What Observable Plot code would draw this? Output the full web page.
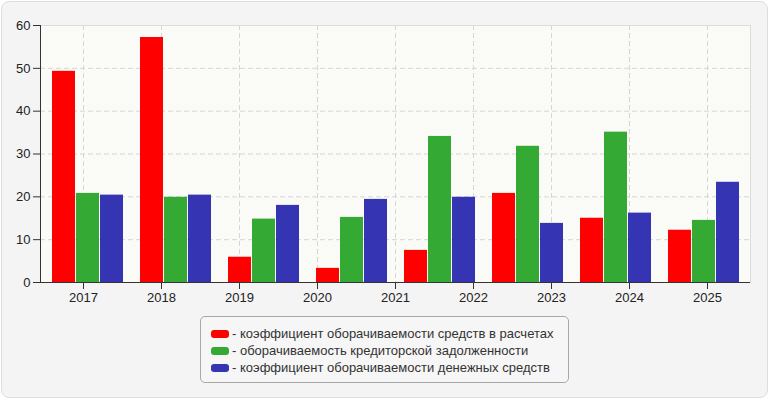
<!DOCTYPE html>
<html>
<head>
<meta charset="utf-8">
<script src="https://cdn.jsdelivr.net/npm/d3@7"></script>
<script src="https://cdn.jsdelivr.net/npm/@observablehq/plot@0.6"></script>
<style>
  html, body { margin: 0; padding: 0; background: #ffffff; }
  #wrap { position: relative; width: 770px; height: 400px; overflow: hidden; font-family: "Liberation Sans", Arial, sans-serif; }
  #box { position: absolute; left: 1px; top: 1px; width: 765px; height: 395px; background: #f4f4f4; border: 1px solid #dedede; border-radius: 8px; }
  .layer { position: absolute; left: 0; top: 0; }
  #legend { position: absolute; left: 200px; top: 316px; width: 367px; height: 65px; border: 1px solid #a8a8a8; border-radius: 5px; background: #f6f6f6; box-sizing: content-box; }
  .item { position: absolute; left: 10px; height: 17px; line-height: 17px; font-size: 13px; color: #333; white-space: nowrap; }
  .sw { display: inline-block; width: 18px; height: 8px; border-radius: 3px; margin-right: 3px; vertical-align: 0px; }
</style>
</head>
<body>
<div id="wrap">
  <div id="box"></div>
  <div id="axes" class="layer"></div>
  <div id="bars" class="layer"></div>
  <div id="legend"></div>
</div>
<script>
// ---- data ----
const tickLabels = ["2017", "2018", "2019", "2020", "2021", "2022", "2023", "2024", "2025"];
const groups = ["g1", "g2", "g3", "g4", "g5", "g6", "g7", "g8"];
const seriesNames = [
  "коэффициент оборачиваемости средств в расчетах",
  "оборачиваемость кредиторской задолженности",
  "коэффициент оборачиваемости денежных средств"
];
const receivablesTurnover = [49.3, 57.2, 5.9, 3.3, 7.5, 20.8, 15.0, 12.2];
const payablesTurnover   = [20.8, 19.9, 14.8, 15.2, 34.1, 31.8, 35.1, 14.5];
const cashTurnover       = [20.4, 20.4, 18.0, 19.4, 19.9, 13.8, 16.2, 23.4];
const seriesColors = ["#ff0000", "#34aa34", "#3535b4"];
const yTicks = [0, 10, 20, 30, 40, 50, 60];

const seriesValues = [receivablesTurnover, payablesTurnover, cashTurnover];
const rows = [];
groups.forEach((g, i) => {
  seriesNames.forEach((s, k) => rows.push({group: g, series: s, value: seriesValues[k][i]}));
});

const W = 770, H = 310;
const M = {marginLeft: 40, marginRight: 20, marginTop: 25, marginBottom: 28};
const font = {background: "transparent", fontFamily: "'Liberation Sans', Arial, sans-serif", fontSize: "13px", color: "#222"};

const axes = Plot.plot({
  width: W, height: H, ...M,
  style: font,
  x: {type: "band", domain: tickLabels, padding: 0, label: null},
  y: {domain: [0, 60], label: null},
  marks: [
    Plot.frame({fill: "url(#hatch)", stroke: "#dcdcdc"}),
    Plot.gridY(yTicks.slice(1, -1), {stroke: "#d6d6d6", strokeOpacity: 1, strokeDasharray: "5,3"}),
    Plot.gridX({stroke: "#d6d6d6", strokeOpacity: 1, strokeDasharray: "5,3"}),
    Plot.axisX({tickSize: 7, tickPadding: 3, label: null, stroke: "#333"}),
    Plot.axisY({ticks: yTicks, tickSize: 7, tickPadding: 3, label: null, stroke: "#333"}),
    Plot.frame({anchor: "left", stroke: "#333"}),
    Plot.ruleY([0], {stroke: "#333"})
  ]
});
// hatch pattern for plot area
const ns = "http://www.w3.org/2000/svg";
const defs = document.createElementNS(ns, "defs");
defs.innerHTML = `<pattern id="hatch" patternUnits="userSpaceOnUse" width="4" height="4">
  <rect width="4" height="4" fill="#fdfdf9"></rect>
  <path d="M-1,1 l2,-2 M0,4 l4,-4 M3,5 l2,-2" stroke="#f2f2ee" stroke-width="1"></path>
</pattern>`;
axes.insertBefore(defs, axes.firstChild);
document.getElementById("axes").appendChild(axes);

const bars = Plot.plot({
  width: W, height: H, ...M,
  style: font,
  fx: {domain: groups, padding: 0, axis: null, label: null},
  x: {domain: seriesNames, paddingInner: 0.04, paddingOuter: 0.295, align: 0.56, axis: null},
  y: {domain: [0, 60], axis: null},
  color: {domain: seriesNames, range: seriesColors},
  marks: [
    Plot.barY(rows, {fx: "group", x: "series", y: "value", fill: "series"})
  ]
});
document.getElementById("bars").appendChild(bars);

// legend
const legend = document.getElementById("legend");
seriesNames.forEach((s, k) => {
  const d = document.createElement("div");
  d.className = "item";
  d.style.top = (8 + k * 17) + "px";
  const sw = document.createElement("span");
  sw.className = "sw";
  sw.style.background = seriesColors[k];
  d.appendChild(sw);
  d.appendChild(document.createTextNode("- " + s));
  legend.appendChild(d);
});
</script>
</body>
</html>
